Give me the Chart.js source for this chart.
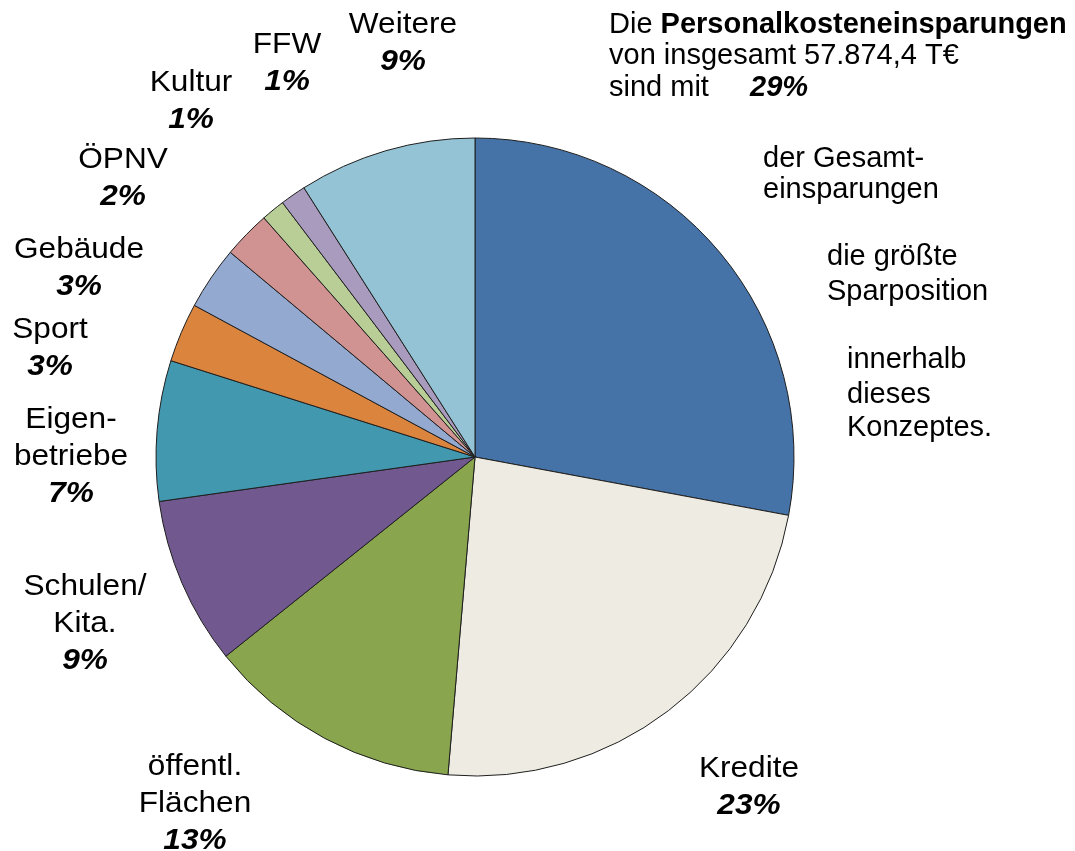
<!DOCTYPE html>
<html>
<head>
<meta charset="utf-8">
<script src="https://cdn.jsdelivr.net/npm/chart.js@4"></script>
<style>
  html, body { margin: 0; padding: 0; background: #ffffff; }
  #wrap { width: 1075px; height: 851px; position: relative; }
</style>
</head>
<body>
<div id="wrap"><canvas id="c" width="1075" height="851"></canvas></div>
<script>
// ---- data ----
const categories = ["Personal", "Kredite", "öffentl. Flächen", "Schulen/ Kita.", "Eigenbetriebe", "Sport", "Gebäude", "ÖPNV", "Kultur", "FFW", "Weitere"];
const shares = [27.9, 23.4, 12.9, 8.5, 7.1, 3.0, 3.2, 2.4, 1.2, 1.3, 9.0];
const percentLabels = ["29%", "23%", "13%", "9%", "7%", "3%", "3%", "2%", "1%", "1%", "9%"];
const nameLines = [[], ["Kredite"], ["öffentl.", "Flächen"], ["Schulen/", "Kita."], ["Eigen-", "betriebe"], ["Sport"], ["Gebäude"], ["ÖPNV"], ["Kultur"], ["FFW"], ["Weitere"]];
const colors = ["#4572A7", "#EEECE2", "#89A54E", "#71588F", "#4198AF", "#DB843D", "#93A9CF", "#D19392", "#B9CD96", "#A99BBD", "#93C3D5"];

// ---- label layout (style) ----
const FONT = '"Liberation Sans", Arial, Helvetica, sans-serif';
const FS = 29;
const LH = 37;
const SX = 1.09; // horizontal stretch of the slice labels
// center x and first baseline y for each slice label
const labelPos = [null, [749, 777], [195, 775], [85, 595], [71, 428], [50, 338], [79, 258], [123, 168], [191, 91], [287, 53], [403, 33]];

function stretchedText(ctx, text, x, y) {
  ctx.save();
  ctx.translate(x, y);
  ctx.scale(SX, 1);
  ctx.fillText(text, 0, 0);
  ctx.restore();
}

const labelPlugin = {
  id: 'labels',
  afterDraw(chart) {
    const ctx = chart.ctx;
    ctx.save();
    ctx.fillStyle = '#000';
    ctx.textBaseline = 'alphabetic';
    ctx.textAlign = 'center';
    for (let i = 0; i < categories.length; i++) {
      const p = labelPos[i];
      if (!p) continue;
      let y = p[1];
      ctx.font = FS + 'px ' + FONT;
      for (const line of nameLines[i]) {
        stretchedText(ctx, line, p[0], y);
        y += LH;
      }
      ctx.font = 'italic bold ' + FS + 'px ' + FONT;
      stretchedText(ctx, percentLabels[i], p[0], y);
    }
    // right annotation block
    ctx.textAlign = 'left';
    ctx.font = FS + 'px ' + FONT;
    ctx.fillText('Die ', 609, 33);
    const w = ctx.measureText('Die ').width;
    ctx.font = 'bold ' + FS + 'px ' + FONT;
    ctx.fillText('Personalkosteneinsparungen', 609 + w, 33);
    ctx.font = FS + 'px ' + FONT;
    ctx.fillText('von insgesamt 57.874,4 T€', 609, 64);
    ctx.fillText('sind mit', 609, 96);
    ctx.font = 'italic bold ' + FS + 'px ' + FONT;
    ctx.fillText(percentLabels[0], 750, 96);
    ctx.font = FS + 'px ' + FONT;
    ctx.fillText('der Gesamt-', 763, 167);
    ctx.fillText('einsparungen', 763, 198);
    ctx.fillText('die größte', 827, 265);
    ctx.fillText('Sparposition', 827, 300);
    ctx.fillText('innerhalb', 847, 368);
    ctx.fillText('dieses', 847, 403);
    ctx.fillText('Konzeptes.', 847, 436);
    ctx.restore();
  }
};

new Chart(document.getElementById('c'), {
  type: 'pie',
  data: {
    labels: categories,
    datasets: [{
      data: shares,
      backgroundColor: colors,
      borderColor: '#1e1e1e',
      borderWidth: 1
    }]
  },
  options: {
    responsive: false,
    animation: false,
    radius: 319,
    layout: { padding: { left: 156, right: 281, top: 138, bottom: 75 } },
    plugins: { legend: { display: false }, tooltip: { enabled: false }, title: { display: false } }
  },
  plugins: [labelPlugin]
});
</script>
</body>
</html>
